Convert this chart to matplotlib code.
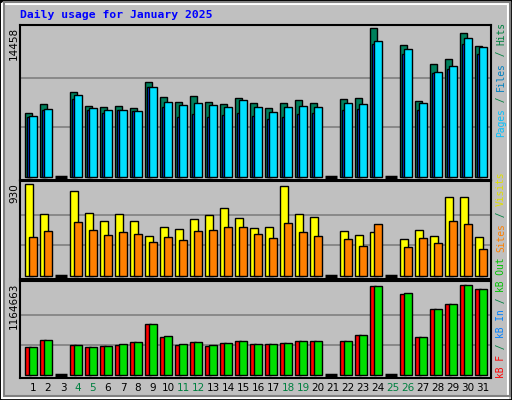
import matplotlib
matplotlib.use("Agg")
import matplotlib.pyplot as plt
import numpy as np

days = list(range(1, 32))
weekend = [4, 5, 11, 12, 18, 19, 25, 26]
hits = [6200,7080,0,8250,6890,6790,6890,6700,9220,7760,7280,7860,7280,7080,7670,7180,
        6700,7180,7470,7180,0,7570,7670,14458,0,12800,7380,10970,11450,14000,12720]
files = [5920,6600,0,7960,6700,6500,6500,6400,8740,7280,6990,7180,6990,6790,7470,6790,
         6310,6790,6890,6790,0,7180,7080,13200,0,12420,7180,10190,10770,13490,12620]
pages = [5820,6500,0,7570,6500,6210,6500,6400,8740,6790,5820,6110,5820,6020,6210,5920,
         5630,5820,6110,6210,0,6500,6600,12900,0,11930,6500,10090,10480,12900,11930]
visits = [930,625,0,859,636,555,625,555,402,494,473,575,615,686,585,483,
          494,909,625,595,0,453,412,443,0,372,463,402,798,798,392]
sites = [392,453,0,544,463,412,443,423,341,392,362,453,463,494,494,423,
         382,534,443,402,0,372,301,524,0,291,382,331,555,524,270]
kbin = [368000,458000,0,394000,368000,381000,407000,432000,664000,510000,407000,432000,394000,420000,445000,407000,
        407000,420000,445000,445000,0,445000,522000,1152000,0,1062000,497000,856000,921000,1164663,1113000]
kbf = [368000,458000,0,394000,368000,381000,394000,432000,664000,497000,394000,432000,381000,420000,445000,407000,
       407000,420000,445000,445000,0,445000,522000,1152000,0,1049000,497000,856000,921000,1164663,1113000]

W, H = 512, 400
fig = plt.figure(figsize=(W/100, H/100), dpi=100, facecolor="#c0c0c0")
fig.add_artist(plt.Rectangle((0, 0), 1, 1, transform=fig.transFigure, fill=False, ec="black", lw=2))
fig.add_artist(plt.Rectangle((2/W, 2/H), 1-6/W, 1-6/H, transform=fig.transFigure, fill=False, ec="white", lw=1.5))
fig.add_artist(plt.Rectangle((4/W, 4/H), 1-6/W, 1-6/H, transform=fig.transFigure, fill=False, ec="#808080", lw=1.5))

def mkax(top, bot):
    ax = fig.add_axes([20/W, 1-bot/H, 471/W, (bot-top)/H])
    ax.set_facecolor("#c0c0c0")
    ax.set_xlim(0, 471/15)
    for s in ax.spines.values():
        s.set_color("black"); s.set_linewidth(1.5)
    ax.set_xticks([]); ax.set_yticks([])
    return ax

x = np.array(days) - 1

def bars(ax, vals, off, wid, color, zero_line=False):
    v = np.array(vals, float)
    m = v > 0
    ax.bar(x[m] + off, v[m], width=wid, align="edge", color=color, edgecolor="black", lw=1, zorder=3)
    if zero_line:
        for xi in x[~m]:
            ax.plot([xi + 0.33, xi + 1.1], [0, 0], color="black", lw=2.5, zorder=3, solid_capstyle="butt")

def grid(ax, mx):
    for f in (1/3, 2/3):
        ax.axhline(mx*f, color="#808080", lw=1.2, zorder=1)

ax1 = mkax(25, 180)
mx = max(hits)
ax1.set_ylim(-mx*0.02, mx*1.02)
grid(ax1, mx)
bars(ax1, hits, 0.35, 0.45, "#00805c", True)
bars(ax1, pages, 0.49, 0.15, "#0040ff")
bars(ax1, files, 0.62, 0.49, "#00e0ff")

ax2 = mkax(181, 279)
mv = max(visits)
ax2.set_ylim(-mv*0.03, mv*1.03)
grid(ax2, mv)
bars(ax2, visits, 0.33, 0.55, "#ffff00", True)
bars(ax2, sites, 0.62, 0.49, "#ff8000")

ax3 = mkax(281, 378)
mk = max(kbin)
ax3.set_ylim(-mk*0.03, mk*1.04)
grid(ax3, mk)
bars(ax3, kbf, 0.35, 0.35, "#ff0000", True)
bars(ax3, kbin, 0.62, 0.49, "#00e000")

mono = "DejaVu Sans Mono"
fig.text(20/W, 1-15/H, "Daily usage for January 2025", color="#0000ff", family=mono,
         weight="bold", fontsize=8.2, va="center", ha="left")
for val, ytop in ((max(hits), 25), (max(visits), 181), (max(kbin), 281)):
    fig.text(14/W, 1-(ytop+2)/H, str(val), rotation=90, family="DejaVu Sans", fontsize=7.5,
             va="top", ha="center")
for d in days:
    fig.text((20 + 15*(d-1) + 13)/W, 1-388/H, str(d), ha="center", va="center", fontsize=7.5,
             color="#008040" if d in weekend else "black")

def vlabel(parts, ybot):
    y = ybot
    for txt, col in parts:
        t = fig.text(501/W, 1-y/H, txt, rotation=90, color=col, family=mono, fontsize=6.9,
                     ha="center", va="bottom")
        fig.canvas.draw()
        y -= t.get_window_extent().height
vlabel([("Pages", "#00c0ff"), (" / ", "#008040"), ("Files", "#0080c0"), (" / ", "#008040"), ("Hits", "#008040")], 137)
vlabel([("Sites", "#ff8000"), (" / ", "#008040"), ("Visits", "#e0e000")], 252)
vlabel([("kB F", "#ff0000"), (" / ", "#008040"), ("kB In", "#0080ff"), (" / ", "#008040"), ("kB Out", "#00c000")], 378)

fig.savefig("out.png", dpi=100, facecolor=fig.get_facecolor())
